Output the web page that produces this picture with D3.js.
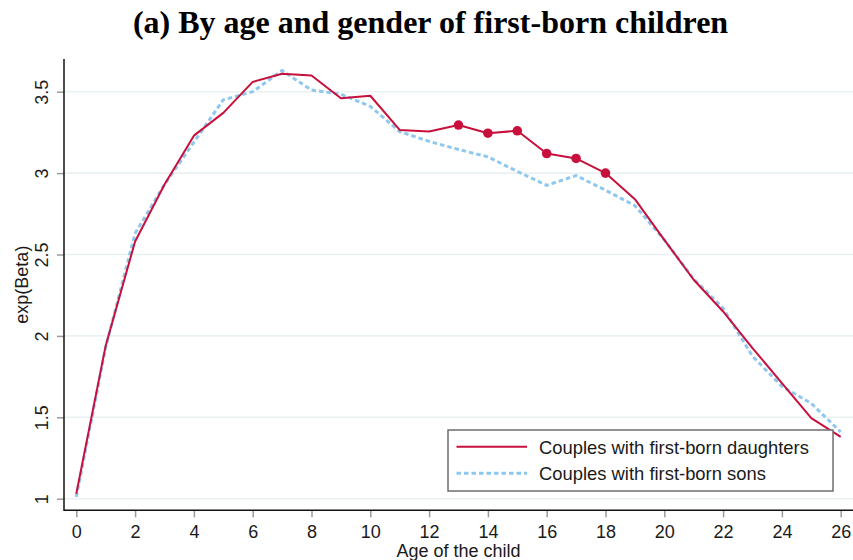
<!DOCTYPE html>
<html><head><meta charset="utf-8">
<script src="https://cdn.jsdelivr.net/npm/d3@7"></script>
<style>
html,body{margin:0;padding:0;background:#fff;}
svg{display:block;}
text{font-family:"Liberation Sans",Arial,sans-serif;}
</style></head>
<body>
<svg id="chart" width="853" height="560"></svg>
<script>
const ages = [0,1,2,3,4,5,6,7,8,9,10,11,12,13,14,15,16,17,18,19,20,21,22,23,24,25,26];
const daughters = [1.03,1.94,2.58,2.93,3.23,3.37,3.56,3.61,3.60,3.46,3.475,3.265,3.255,3.295,3.245,3.26,3.12,3.09,3.00,2.84,2.59,2.345,2.15,1.925,1.71,1.495,1.38];
const sons = [1.01,1.93,2.63,2.93,3.19,3.45,3.50,3.63,3.51,3.485,3.41,3.255,3.195,3.145,3.10,3.01,2.925,2.985,2.895,2.80,2.59,2.35,2.17,1.875,1.69,1.585,1.41];
const significantAges = [13,14,15,16,17,18];
const xTicks = [0,2,4,6,8,10,12,14,16,18,20,22,24,26];
const yTicks = [1,1.5,2,2.5,3,3.5];
const yTickLabels = ["1","1.5","2","2.5","3","3.5"];
const seriesNames = ["Couples with first-born daughters","Couples with first-born sons"];
const titleText = "(a) By age and gender of first-born children";
const xTitle = "Age of the child";
const yTitle = "exp(Beta)";

(function(){
const svg = d3.select("#chart");
const pL = 64, pR = 853, pT = 59, pB = 510.3;
const x = d3.scaleLinear().domain([0,26]).range([76.3,840.7]);
const y = d3.scaleLinear().domain([1,3.5]).range([498.7,91.7]);
const red = "#c8103c", blue = "#8ec8ee";

// title
svg.append("text").attr("x",430.5).attr("y",33).attr("text-anchor","middle")
  .style("font-family","'Liberation Serif','Times New Roman',serif")
  .style("font-weight","bold").style("font-size","32px").attr("fill","#000").text(titleText);

// gridlines
svg.append("g").selectAll("line").data(yTicks).join("line")
  .attr("x1",pL).attr("x2",pR).attr("y1",d=>y(d)).attr("y2",d=>y(d))
  .attr("stroke","#eaf1f3").attr("stroke-width",1.6);

// y axis
const yAxis = svg.append("g").attr("transform",`translate(${pL},0)`)
  .call(d3.axisLeft(y).tickValues(yTicks).tickSize(7).tickFormat((d,i)=>yTickLabels[i]));
yAxis.select(".domain").remove();
yAxis.selectAll(".tick line").attr("stroke","#9a9a9a").attr("stroke-width",1.5);
yAxis.selectAll(".tick text").attr("x",null).attr("dy",null)
  .attr("transform","translate(-16,0) rotate(-90)").attr("text-anchor","middle")
  .style("font-size","18px").attr("fill","#1a1a1a");

// x axis
const xAxis = svg.append("g").attr("transform",`translate(0,${pB})`)
  .call(d3.axisBottom(x).tickValues(xTicks).tickSize(7).tickFormat(d3.format("d")));
xAxis.select(".domain").remove();
xAxis.selectAll(".tick line").attr("stroke","#9a9a9a").attr("stroke-width",1.5);
xAxis.selectAll(".tick text").attr("y",28).attr("dy",null)
  .style("font-size","18px").attr("fill","#1a1a1a");

// axis lines
svg.append("line").attr("x1",pL).attr("x2",pL).attr("y1",pT).attr("y2",pB+0.75)
  .attr("stroke","#111").attr("stroke-width",1.5);
svg.append("line").attr("x1",pL).attr("x2",pR).attr("y1",pB).attr("y2",pB)
  .attr("stroke","#111").attr("stroke-width",1.5);

// axis titles
svg.append("text").attr("transform",`translate(28,${(pT+pB)/2}) rotate(-90)`)
  .attr("text-anchor","middle").style("font-size","18px").attr("fill","#1a1a1a").text(yTitle);
svg.append("text").attr("x",(pL+pR)/2).attr("y",557).attr("text-anchor","middle")
  .style("font-size","18px").attr("fill","#1a1a1a").text(xTitle);

// lines
const line = d3.line().x((d,i)=>x(ages[i])).y(d=>y(d));
svg.append("path").datum(sons).attr("d",line).attr("fill","none")
  .attr("stroke",blue).attr("stroke-width",3).attr("stroke-dasharray","4.5,3");
svg.append("path").datum(daughters).attr("d",line).attr("fill","none")
  .attr("stroke",red).attr("stroke-width",2).attr("stroke-linejoin","round");

// significant markers
svg.append("g").selectAll("circle").data(significantAges).join("circle")
  .attr("cx",a=>x(a)).attr("cy",a=>y(daughters[ages.indexOf(a)])).attr("r",4.8).attr("fill",red);

// legend
const lg = svg.append("g");
lg.append("rect").attr("x",448).attr("y",430).attr("width",385).attr("height",61)
  .attr("fill","#fff").attr("stroke","#6e6e6e").attr("stroke-width",1.5);
lg.append("line").attr("x1",456.5).attr("x2",527).attr("y1",446.7).attr("y2",446.7)
  .attr("stroke",red).attr("stroke-width",2);
lg.append("line").attr("x1",456.5).attr("x2",527).attr("y1",473.3).attr("y2",473.3)
  .attr("stroke",blue).attr("stroke-width",3).attr("stroke-dasharray","4.5,3");
lg.append("text").attr("x",539).attr("y",453.5).style("font-size","18.4px").attr("fill","#1a1a1a").text(seriesNames[0]);
lg.append("text").attr("x",539).attr("y",480).style("font-size","18.4px").attr("fill","#1a1a1a").text(seriesNames[1]);
})();
</script>
</body></html>
